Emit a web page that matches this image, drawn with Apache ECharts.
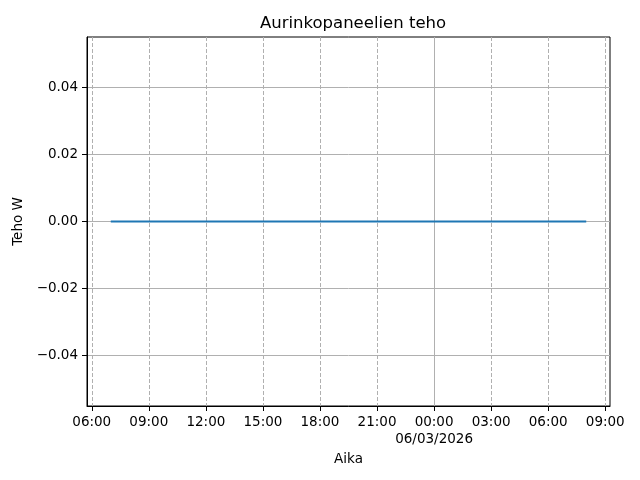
<!DOCTYPE html>
<html>
<head>
<meta charset="utf-8">
<script src="https://cdn.jsdelivr.net/npm/echarts@6/dist/echarts.min.js"></script>
<style>
  html, body { margin: 0; background: #fff; }
  #chart { width: 640px; height: 480px; }
</style>
</head>
<body>
<div id="chart"></div>
<script>
// x values are hours counted from 05/03/2026 00:00
const hours = [7, 8, 9, 10, 11, 12, 13, 14, 15, 16, 17, 18, 19, 20, 21, 22, 23, 24, 25, 26, 27, 28, 29, 30, 31, 32];
const watts = [0, 0, 0, 0, 0, 0, 0, 0, 0, 0, 0, 0, 0, 0, 0, 0, 0, 0, 0, 0, 0, 0, 0, 0, 0, 0];
const xTicks = [6, 9, 12, 15, 18, 21, 24, 27, 30, 33];
const xMidnight = [24];
const yTicks = [-0.04, -0.02, 0, 0.02, 0.04];
const dayLabel = '06/03/2026';

const font = 'DejaVu Sans';
const gridGrey = '#b0b0b0';

function hourLabel(v) {
  const h = ((Math.round(v) % 24) + 24) % 24;
  const s = (h < 10 ? '0' : '') + h + ':00';
  return Math.round(v) === 24 ? s + '\n' + dayLabel : s;
}

const chart = echarts.init(document.getElementById('chart'));
chart.setOption({
  animation: false,
  title: {
    text: 'Aurinkopaneelien teho',
    left: 348, top: 10, textAlign: 'center',
    textStyle: { fontFamily: font, fontSize: 16.5, fontWeight: 'normal', color: '#000' }
  },
  grid: {
    left: 87, right: 30, top: 37, bottom: 74,
    outerBoundsMode: 'none',
    show: true, borderColor: '#000', borderWidth: 1
  },
  xAxis: [{
    type: 'value',
    min: 5.75, max: 33.25,
    name: 'Aika', nameLocation: 'middle', nameGap: 39,
    nameTextStyle: { fontFamily: font, fontSize: 13.5, color: '#000' },
    axisLine: { show: true, onZero: false, lineStyle: { color: '#000' } },
    axisTick: { show: true, customValues: xTicks, length: 5, lineStyle: { color: '#000' } },
    axisLabel: {
      customValues: xTicks, margin: 8, formatter: hourLabel,
      fontFamily: font, fontSize: 13.5, color: '#000', lineHeight: 17
    },
    splitLine: { show: true, lineStyle: { color: gridGrey, type: [4, 2], width: 1 } }
  }, {
    type: 'value',
    min: 5.75, max: 33.25,
    position: 'top',
    axisLine: { show: false, onZero: false },
    axisTick: { show: true, customValues: xMidnight, length: 0 },
    axisLabel: { show: false, customValues: xMidnight },
    splitLine: { show: true, lineStyle: { color: gridGrey, type: 'solid', width: 1 } }
  }],
  yAxis: {
    type: 'value',
    min: -0.055, max: 0.055,
    name: 'Teho W', nameLocation: 'middle', nameGap: 56,
    nameTextStyle: { fontFamily: font, fontSize: 13.5, color: '#000' },
    axisLine: { show: true, onZero: false, lineStyle: { color: '#000' } },
    axisTick: { show: true, customValues: yTicks, length: 5, lineStyle: { color: '#000' } },
    axisLabel: {
      customValues: yTicks, margin: 9,
      formatter: v => v.toFixed(2).replace('-', '\u2212'),
      fontFamily: font, fontSize: 13.5, color: '#000'
    },
    splitLine: { show: true, lineStyle: { color: gridGrey, type: 'solid', width: 1 } }
  },
  series: [{
    type: 'line',
    xAxisIndex: 0,
    data: hours.map((h, i) => [h, watts[i]]),
    showSymbol: false,
    lineStyle: { color: '#1f77b4', width: 2 },
    z: 5
  }]
});
</script>
</body>
</html>
